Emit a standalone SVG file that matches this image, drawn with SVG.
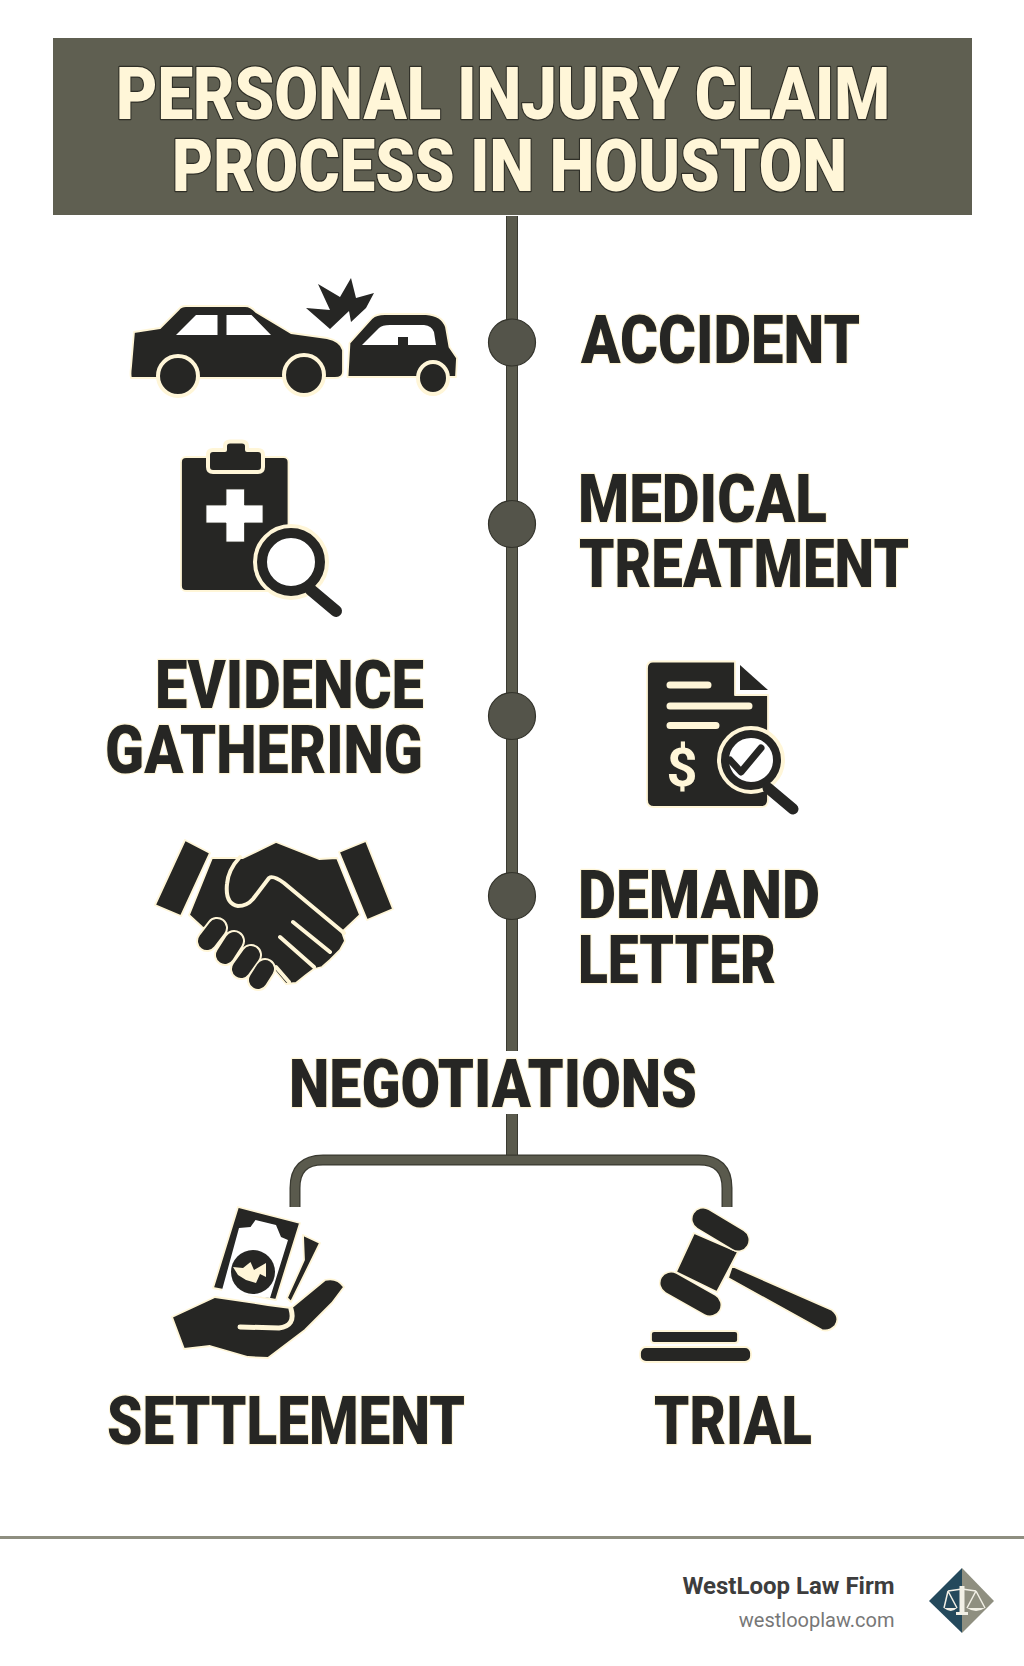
<svg xmlns="http://www.w3.org/2000/svg" width="1024" height="1666" viewBox="0 0 1024 1666">
<style>
.lb{font-family:"Roboto","Liberation Sans",sans-serif;font-weight:900;font-size:66px;fill:#262624;stroke:#fff6d8;stroke-width:2.500px;paint-order:stroke;stroke-linejoin:round}
.tt{font-family:"Roboto","Liberation Sans",sans-serif;font-weight:900;font-size:72px;fill:#fff6d8;stroke:#2f2f27;stroke-width:2.500px;paint-order:stroke;stroke-linejoin:round}
.d{fill:#262624;stroke:#fff6d8;stroke-width:1.800;stroke-linejoin:round}
.k{fill:#262624}
.w{fill:#fff}
.c{fill:none;stroke:#fff6d8;stroke-linecap:round;stroke-linejoin:round}
.dl{fill:none;stroke:#262624;stroke-linecap:round;stroke-linejoin:round}
.dot{fill:#54544a;stroke:#33332b;stroke-width:1.200}
.cn{fill:none;stroke:#5a5a4d}
.ce{fill:none;stroke:#3a3a31}
</style>
<rect width="1024" height="1666" fill="#fff"/>
<g id="header">
<rect x="53" y="38" width="919" height="177" fill="#5f5f51"/>
<text class="tt" x="116" y="119" textLength="774" lengthAdjust="spacingAndGlyphs">PERSONAL INJURY CLAIM</text>
<text class="tt" x="172" y="191" textLength="675" lengthAdjust="spacingAndGlyphs">PROCESS IN HOUSTON</text>
</g>
<g id="connectors">
<path class="ce" stroke-width="12" d="M512 216V1051M512 1114V1158"/>
<path class="cn" stroke-width="10" d="M512 216V1051M512 1114V1158"/>
<path class="ce" stroke-width="11" d="M295 1207V1188Q295 1160 323 1160H699Q727 1160 727 1188V1207"/>
<path class="cn" stroke-width="8.500" d="M295 1207V1188Q295 1160 323 1160H699Q727 1160 727 1188V1207"/>
</g>
<g id="accident">
<path class="d" d="M131 367L134 332L160 328L179 309Q181 306 186 306H245Q251 306 256 312L291 333L327 338Q341 341 343 350V372Q343 378 335 378H131Q130 375 131 367Z"/>
<path class="w" d="M176 335L196 315H217.500V335ZM226.500 315H251.500L271 335H226.500Z"/>
<ellipse class="d" cx="178" cy="376" rx="20" ry="20" style="stroke-width:4"/>
<ellipse class="d" cx="304" cy="375" rx="20" ry="20" style="stroke-width:4"/>
<path class="d" d="M347.500 377L349.500 343L372 318Q376 314 385 314H426Q442 315 446 327L449.500 347L457 358L456 377Z"/>
<path class="w" d="M362 345L379 328Q382 325 390 325H424Q432 326 434 332L436 345H408V337H398V345Z"/>
<ellipse class="d" cx="433" cy="378" rx="15" ry="16" style="stroke-width:4"/>
<path class="k" d="M330 329L306 308L330 310L318 284L340 297L351 278L356 298L374 293L366 308L351 322L349 311Z"/>
<circle class="dot" cx="512" cy="342.500" r="23.500"/>
<text class="lb" x="581" y="363" textLength="279" lengthAdjust="spacingAndGlyphs">ACCIDENT</text>
</g>
<g id="medical-treatment">
<rect class="d" x="181" y="457" width="107.500" height="134" rx="5"/>
<path class="d" d="M225 450V446Q225 441.500 230 441.500H242Q247 441.500 247 446V450H258Q263 450 263 455V467Q263 472 258 472H213Q208 472 208 467V455Q208 450 213 450Z" style="stroke-width:4"/>
<path class="w" d="M226 489H244.500V505H263V523H244.500V542H226V523H206V505H226Z" stroke="#33332b" stroke-width="0.800"/>
<circle cx="291" cy="562" r="30" fill="#fff" stroke="#fff6d8" stroke-width="16"/>
<circle cx="291" cy="562" r="29" fill="#fff" stroke="#262624" stroke-width="10"/>
<path class="dl" stroke-width="12" d="M311 590L336 611"/>
<circle class="dot" cx="512" cy="524" r="23.500"/>
<text class="lb" x="578" y="522" textLength="249" lengthAdjust="spacingAndGlyphs">MEDICAL</text>
<text class="lb" x="579" y="587" textLength="330" lengthAdjust="spacingAndGlyphs">TREATMENT</text>
</g>
<g id="evidence-gathering">
<text class="lb" x="155" y="708" textLength="269" lengthAdjust="spacingAndGlyphs">EVIDENCE</text>
<text class="lb" x="105" y="773" textLength="318" lengthAdjust="spacingAndGlyphs">GATHERING</text>
<circle class="dot" cx="512" cy="716" r="23.500"/>
<path class="d" d="M653 661.500H735V695H768V800Q768 807 761 807H654Q647 807 647 800V668Q647 661.500 653 661.500Z"/>
<path class="k" d="M740 665L768 690H740Z"/>
<path class="c" stroke-width="7" d="M670 685H708M670 706H749M670 725.500H716"/>
<text x="682" y="786" text-anchor="middle" font-family="Roboto,'Liberation Sans',sans-serif" font-weight="700" font-size="54" fill="#fff6d8">$</text>
<circle cx="751" cy="760" r="27" fill="#fff" stroke="#fff6d8" stroke-width="14"/>
<circle cx="751" cy="760" r="26" fill="#fff" stroke="#262624" stroke-width="8"/>
<path class="dl" stroke-width="7" d="M730 760L741 772L761 748"/>
<path class="dl" stroke-width="11" d="M768 788L793 809"/>
</g>
<g id="demand-letter">
<path class="d" d="M185 840L210 853L181 916L155 905Z"/>
<path class="d" d="M366 841L339 852L367 920L393 909Z"/>
<path class="d" d="M212 858H243L276 842L319 859L337 858L360 915L342 932L345 941L340 950L330 960L322 967L314 969L306 975L296 983L286 984L270 965L202 927L189 915Z"/>
<path class="c" stroke-width="4" d="M240 857Q228 870 227 884Q225 904 238 906Q247 906 253 899L269 878Q273 875 284 883L344 933M293 922L330 952M280 937L314 967M276 967L289 982"/>
<g>
<path class="c" stroke-width="22" d="M217 928L207 941M234 941L225 955M251 955L241 969M265 969L258 980"/>
<path class="dl" stroke-width="18" d="M217 928L207 941M234 941L225 955M251 955L241 969M265 969L258 980"/>
</g>
<circle class="dot" cx="512" cy="896" r="23.500"/>
<text class="lb" x="578" y="918" textLength="242" lengthAdjust="spacingAndGlyphs">DEMAND</text>
<text class="lb" x="578" y="983" textLength="198" lengthAdjust="spacingAndGlyphs">LETTER</text>
</g>
<g id="negotiations">
<text class="lb" x="289" y="1107" textLength="408" lengthAdjust="spacingAndGlyphs">NEGOTIATIONS</text>
</g>
<g id="settlement">
<path class="d" d="M238 1207L300 1223L276 1300L213 1288Z"/>
<path class="w" d="M239 1228L250.500 1227L255.500 1220L276 1225L281 1237L288 1240L270 1298L221.500 1292Z"/>
<ellipse class="k" cx="253" cy="1272" rx="22" ry="22"/>
<path fill="#fff6d8" d="M233 1267L243 1268L250.500 1262L254 1270L266 1263L266 1277L260 1274L256 1283L246 1280L238 1275Z"/>
<path class="d" d="M303 1235L320 1243L291 1302L287 1298L304 1260Z"/>
<path class="d" d="M172 1317L215 1297L268 1305L291 1308L325 1280Q337 1277 344 1287L332 1303L305 1330L268 1358L248 1357L210 1346L184 1349Z"/>
<path class="c" stroke-width="5" d="M240 1327L279 1328Q296 1326 291 1309"/>
<text class="lb" x="107" y="1444" textLength="358" lengthAdjust="spacingAndGlyphs">SETTLEMENT</text>
</g>
<g id="trial">
<path class="d" d="M694 1233L738 1252L717 1292L676 1272Z"/>
<path class="c" stroke-width="24" d="M703 1219L738 1240M671 1283L710 1305"/>
<path class="dl" stroke-width="21" d="M703 1219L738 1240M671 1283L710 1305"/>
<path class="d" d="M732 1266L832 1310Q841 1317 835 1326Q829 1332 822 1330L728 1278Z"/>
<rect class="d" x="651" y="1331" width="87" height="12" rx="3"/>
<rect class="d" x="640" y="1347" width="111" height="15" rx="6"/>
<text class="lb" x="654" y="1444" textLength="158" lengthAdjust="spacingAndGlyphs">TRIAL</text>
</g>
<g id="footer">
<rect x="0" y="1536" width="1024" height="3" fill="#8e8e80"/>
<text x="894.500" y="1594" text-anchor="end" font-family="Roboto,'Liberation Sans',sans-serif" font-weight="700" font-size="24" fill="#3d3d3d">WestLoop Law Firm</text>
<text x="894.500" y="1627" text-anchor="end" font-family="Roboto,'Liberation Sans',sans-serif" font-size="20" fill="#777">westlooplaw.com</text>
<path fill="#24495c" d="M962 1568L929 1601L962 1633Z"/>
<path fill="#8f8f80" d="M962 1568L994 1601L962 1633Z"/>
<path fill="none" stroke="#f2f0e6" stroke-width="1.500" d="M948 1591L962 1589L976 1591M948 1591L944 1608M948 1591L957 1608M976 1591L967 1608M976 1591L985 1608"/>
<path fill="#f2f0e6" d="M944 1608H957Q951 1614 944 1608ZM967 1608H985Q976 1614 967 1608ZM959.500 1586H964.500V1612H968V1615H956V1612H959.500Z"/>
</g>
</svg>
